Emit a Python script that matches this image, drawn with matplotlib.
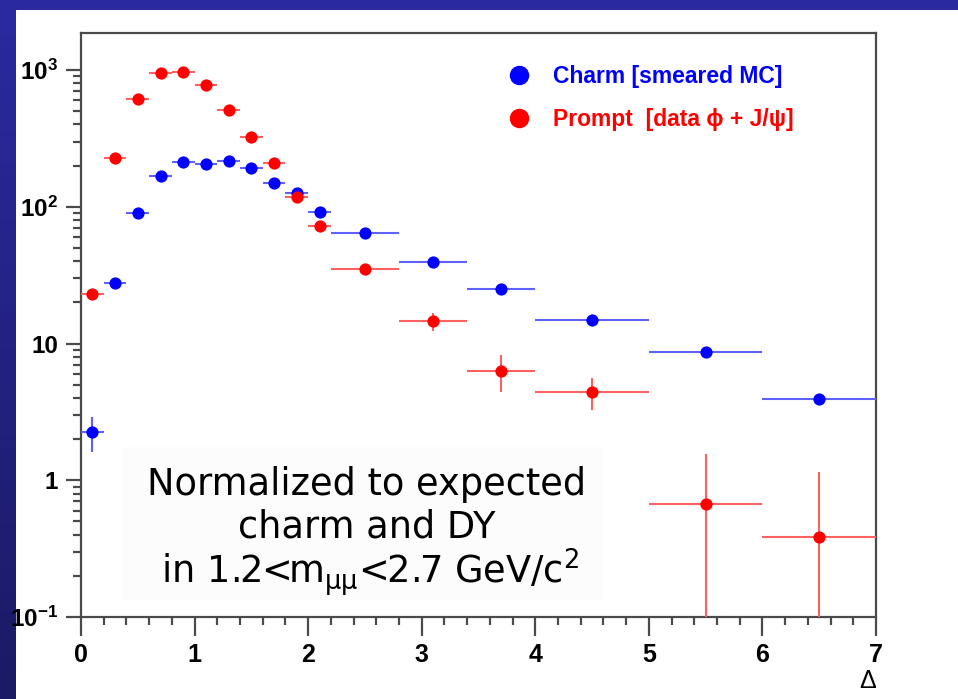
import numpy as np
import matplotlib
matplotlib.use("Agg")
import matplotlib.pyplot as plt
from matplotlib.lines import Line2D
from matplotlib.patches import Rectangle
from matplotlib.ticker import FixedLocator, FixedFormatter, LogLocator, MultipleLocator, NullFormatter

plt.rcParams["mathtext.fontset"] = "custom"
plt.rcParams["mathtext.rm"] = "Liberation Sans:bold"
plt.rcParams["mathtext.it"] = "Liberation Sans:bold"
plt.rcParams["mathtext.bf"] = "Liberation Sans:bold"

# Delta bins: fine 0.2 bins up to 2.2, then wider bins
bin_edges = [0.0, 0.2, 0.4, 0.6, 0.8, 1.0, 1.2, 1.4, 1.6, 1.8, 2.0, 2.2,
             2.8, 3.4, 4.0, 5.0, 6.0, 7.0]

charm_vals = [2.25, 27.7, 90, 168, 212, 205, 216, 192, 149, 126, 92,
              64, 39.5, 25, 14.9, 8.6, 3.9]
charm_errs = [0.65, 2.5, 4.0, 6.0, 7.0, 7.0, 7.0, 6.5, 5.5, 5.0, 4.0,
              2.2, 1.7, 1.3, 0.8, 0.6, 0.35]

prompt_vals = [23, 227, 614, 950, 967, 776, 510, 324, 209, 118, 72,
               35, 14.6, 6.3, 4.42, 0.67, 0.385]
prompt_errs = [1.5, 8, 15, 20, 20, 18, 14, 11, 9, 6, 4.5,
               2.5, 2.2, 1.9, 1.15, 0.89, 0.77]

legend_labels = ["Charm [smeared MC]", "Prompt  [data \u03d5 + J/\u03c8]"]
note_lines = ["Normalized to expected", "charm and DY",
              " in 1.2<m$_{\\mathrm{\u03bc\u03bc}}$<2.7 GeV/c$^{2}$"]
ytick_vals = [0.1, 1, 10, 100, 1000]
ytick_labels = ["10$^{-1}$", "1", "10", "10$^{2}$", "10$^{3}$"]

W, H = 958, 699
fig = plt.figure(figsize=(W / 100, H / 100), dpi=100)

# slide background: blue vertical gradient with a white panel
bg = fig.add_axes([0, 0, 1, 1], zorder=-10)
top = np.array([0x2b, 0x2a, 0xa0]) / 255
bot = np.array([0x1b, 0x1a, 0x64]) / 255
t = np.linspace(0, 1, 256)[:, None]
grad = (top[None, :] * (1 - t) + bot[None, :] * t)[:, None, :]
bg.imshow(grad, aspect="auto", extent=[0, 1, 0, 1])
bg.add_patch(Rectangle((16 / W, 0), 1 - 16 / W, 1 - 10 / H,
                       facecolor="white", edgecolor="none"))
bg.set_xlim(0, 1)
bg.set_ylim(0, 1)
bg.axis("off")

ax = fig.add_axes([81 / W, 1 - 617 / H, (876 - 81) / W, (617 - 33) / H])
ax.set_facecolor("none")

edges = np.array(bin_edges)
centers = 0.5 * (edges[:-1] + edges[1:])
half = 0.5 * (edges[1:] - edges[:-1])


def draw_series(vals, errs, mcolor, ecolor):
    v = np.array(vals)
    e = np.array(errs)
    lo = np.minimum(e, v * 0.999)
    ax.errorbar(centers, v, xerr=half, yerr=[lo, e], fmt="o", color=mcolor,
                ecolor=ecolor, elinewidth=1.5, capsize=0, markersize=8.8,
                markeredgewidth=0, zorder=3)


draw_series(charm_vals, charm_errs, "#0000ff", "#6060ff")
draw_series(prompt_vals, prompt_errs, "#ff0000", "#ff6060")

ax.set_yscale("log")
ax.set_xlim(0, 7)
ax.set_ylim(0.1, 1865)

# axis frame and ticks
for s in ax.spines.values():
    s.set_color("#4a4a4a")
    s.set_linewidth(1.6)

ax.yaxis.set_major_locator(FixedLocator(ytick_vals))
ax.yaxis.set_major_formatter(FixedFormatter(ytick_labels))
ax.yaxis.set_minor_locator(LogLocator(base=10, subs=np.arange(2, 10)))
ax.yaxis.set_minor_formatter(NullFormatter())
ax.xaxis.set_major_locator(MultipleLocator(1))
ax.xaxis.set_minor_locator(MultipleLocator(0.2))

ax.tick_params(axis="y", which="major", direction="out", length=11,
               width=1.6, color="#4a4a4a", pad=5.5)
ax.tick_params(axis="y", which="minor", direction="out", length=6,
               width=1.6, color="#4a4a4a")
ax.tick_params(axis="x", which="major", direction="out", length=13.5,
               width=1.6, color="#4a4a4a", pad=5)
ax.tick_params(axis="x", which="minor", direction="out", length=6,
               width=1.6, color="#4a4a4a")
for lab in ax.get_yticklabels():
    lab.set_fontfamily("Liberation Sans")
    lab.set_fontweight("bold")
    lab.set_fontsize(17.5)
for lab in ax.get_xticklabels():
    lab.set_fontfamily("Liberation Sans")
    lab.set_fontweight("bold")
    lab.set_fontsize(18)

ax.set_xlabel("\u0394", loc="right", fontfamily="Liberation Sans",
              fontsize=18, labelpad=2)

# legend
handles = [Line2D([], [], ls="none", marker="o", color="#0000ff", markersize=13),
           Line2D([], [], ls="none", marker="o", color="#ff0000", markersize=13)]
leg = ax.legend(handles, legend_labels, loc="upper left",
                bbox_to_anchor=(0.540, 0.945), frameon=False, borderpad=0,
                borderaxespad=0, handlelength=0.8, handletextpad=1.05,
                labelspacing=0.85, labelcolor=["#0000ff", "#ff0000"],
                prop={"family": ["Liberation Sans", "DejaVu Sans"],
                      "weight": "bold", "size": 16.5})

# note box
ax.add_patch(Rectangle(((123 - 81) / 795, (617 - 600) / 584),
                       (603 - 123) / 795, (600 - 447) / 584,
                       transform=ax.transAxes, facecolor="#fcfcfc",
                       edgecolor="none", zorder=1))
note_kw = dict(transform=ax.transAxes, fontfamily="DejaVu Sans",
               fontsize=26.5, math_fontfamily="dejavusans", zorder=2,
               va="baseline")
ax.text((367 - 81) / 795, (617 - 495) / 584, note_lines[0], ha="center", **note_kw)
ax.text((367 - 81) / 795, (617 - 538) / 584, note_lines[1], ha="center", **note_kw)
ax.text((150 - 81) / 795, (617 - 583) / 584, note_lines[2], ha="left", **note_kw)

fig.savefig("out.png", dpi=100)
